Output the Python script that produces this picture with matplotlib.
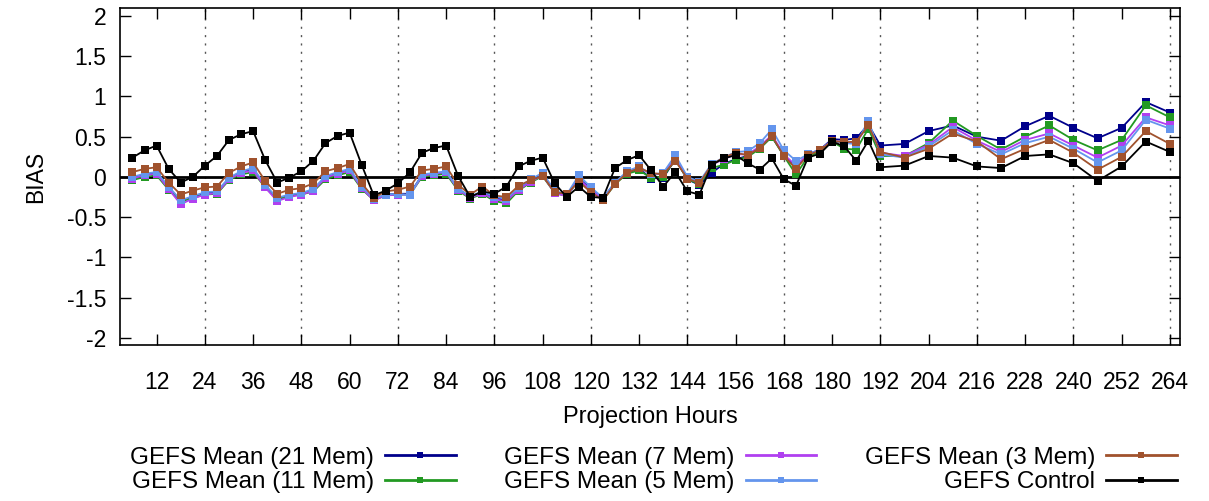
import matplotlib
matplotlib.use("Agg")
import matplotlib.pyplot as plt
from matplotlib.lines import Line2D

plt.rcParams['font.family'] = ['Liberation Sans', 'DejaVu Sans']

hours = list(range(6, 193, 3)) + list(range(198, 265, 6))

mean21 = [-0.01, 0.03, 0.05, -0.13, -0.30, -0.25, -0.20, -0.19, -0.02, 0.06, 0.09, -0.11, -0.27, -0.23, -0.21, -0.16,
          0.00, 0.05, 0.09, -0.13, -0.28, -0.22, -0.21, -0.21, 0.02, 0.04, 0.06, -0.15, -0.25, -0.19, -0.26, -0.29,
          -0.15, -0.05, 0.02, -0.19, -0.23, -0.02, -0.15, -0.27, -0.07, 0.05, 0.10, -0.02, -0.01, 0.22, -0.03, -0.10,
          0.05, 0.16, 0.22, 0.26, 0.36, 0.50, 0.27, 0.12, 0.28, 0.34, 0.47, 0.46, 0.48, 0.65, 0.39,
          0.41, 0.57, 0.64, 0.50, 0.45, 0.63, 0.76, 0.61, 0.48, 0.61, 0.93, 0.80]
mean11 = [-0.04, 0.00, 0.02, -0.16, -0.31, -0.26, -0.22, -0.21, -0.04, 0.03, 0.06, -0.13, -0.28, -0.24, -0.22, -0.18,
          -0.03, 0.02, 0.06, -0.15, -0.29, -0.23, -0.22, -0.22, 0.00, 0.02, 0.04, -0.17, -0.27, -0.21, -0.30, -0.33,
          -0.17, -0.07, 0.01, -0.20, -0.24, -0.04, -0.16, -0.29, -0.09, 0.04, 0.08, -0.01, 0.00, 0.22, -0.03, -0.09,
          0.11, 0.15, 0.21, 0.25, 0.35, 0.50, 0.26, 0.03, 0.25, 0.32, 0.44, 0.35, 0.34, 0.60, 0.26,
          0.26, 0.42, 0.70, 0.51, 0.34, 0.50, 0.64, 0.46, 0.33, 0.46, 0.89, 0.74]
mean7 = [-0.02, 0.02, 0.04, -0.15, -0.34, -0.27, -0.22, -0.20, -0.03, 0.05, 0.08, -0.13, -0.30, -0.25, -0.22, -0.17,
         -0.01, 0.04, 0.08, -0.14, -0.29, -0.23, -0.22, -0.22, 0.01, 0.04, 0.06, -0.16, -0.26, -0.20, -0.28, -0.30,
         -0.16, -0.06, 0.02, -0.20, -0.24, -0.03, -0.16, -0.28, -0.08, 0.06, 0.12, 0.03, 0.04, 0.25, -0.01, -0.07,
         0.15, 0.22, 0.28, 0.28, 0.38, 0.52, 0.28, 0.14, 0.28, 0.34, 0.45, 0.43, 0.42, 0.66, 0.30,
         0.26, 0.40, 0.62, 0.45, 0.31, 0.46, 0.54, 0.39, 0.24, 0.39, 0.74, 0.64]
mean5 = [0.00, 0.04, 0.06, -0.12, -0.29, -0.24, -0.19, -0.18, -0.01, 0.07, 0.11, -0.10, -0.26, -0.22, -0.20, -0.15,
         0.01, 0.06, 0.10, -0.12, -0.27, -0.22, -0.21, -0.23, 0.03, 0.05, 0.07, -0.15, -0.24, -0.18, -0.25, -0.27,
         -0.14, -0.03, 0.05, -0.17, -0.22, 0.02, -0.13, -0.26, -0.07, 0.07, 0.13, 0.03, 0.05, 0.27, 0.00, -0.06,
         0.16, 0.24, 0.31, 0.32, 0.42, 0.59, 0.33, 0.20, 0.28, 0.34, 0.45, 0.42, 0.41, 0.70, 0.28,
         0.24, 0.38, 0.58, 0.41, 0.28, 0.42, 0.50, 0.35, 0.18, 0.33, 0.71, 0.60]
mean3 = [0.06, 0.10, 0.12, -0.07, -0.22, -0.17, -0.13, -0.12, 0.05, 0.13, 0.18, -0.05, -0.21, -0.16, -0.14, -0.08,
         0.07, 0.11, 0.16, -0.08, -0.26, -0.18, -0.16, -0.12, 0.08, 0.10, 0.13, -0.10, -0.22, -0.12, -0.23, -0.25,
         -0.11, -0.04, 0.01, -0.19, -0.21, -0.06, -0.19, -0.29, -0.09, 0.05, 0.11, 0.05, 0.03, 0.20, -0.02, -0.08,
         0.15, 0.24, 0.30, 0.27, 0.36, 0.51, 0.26, 0.10, 0.27, 0.33, 0.45, 0.43, 0.44, 0.64, 0.31,
         0.24, 0.35, 0.54, 0.44, 0.22, 0.35, 0.46, 0.30, 0.09, 0.25, 0.57, 0.41]
control = [0.24, 0.33, 0.39, 0.10, -0.07, 0.00, 0.14, 0.26, 0.46, 0.53, 0.57, 0.21, -0.07, -0.01, 0.07, 0.20,
           0.42, 0.51, 0.55, 0.15, -0.23, -0.17, -0.08, 0.055, 0.30, 0.36, 0.39, 0.01, -0.25, -0.18, -0.21, -0.12,
           0.13, 0.20, 0.24, -0.08, -0.25, -0.12, -0.25, -0.26, 0.11, 0.21, 0.27, 0.08, -0.12, 0.06, -0.18, -0.22,
           0.15, 0.23, 0.27, 0.17, 0.09, 0.23, -0.03, -0.11, 0.24, 0.29, 0.44, 0.38, 0.20, 0.45, 0.12,
           0.14, 0.26, 0.24, 0.13, 0.11, 0.26, 0.28, 0.17, -0.05, 0.13, 0.44, 0.31]

series = [
    ("GEFS Mean (21 Mem)", mean21, "#00008b"),
    ("GEFS Mean (11 Mem)", mean11, "#229922"),
    ("GEFS Mean (7 Mem)", mean7, "#b040f0"),
    ("GEFS Mean (5 Mem)", mean5, "#6495ed"),
    ("GEFS Mean (3 Mem)", mean3, "#a0522d"),
    ("GEFS Control", control, "#000000"),
]

xticks = list(range(12, 265, 12))
yticks = [-2, -1.5, -1, -0.5, 0, 0.5, 1, 1.5, 2]
ytick_labels = ["-2", "-1.5", "-1", "-0.5", "0", "0.5", "1", "1.5", "2"]

fig = plt.figure(figsize=(12.09, 5.01), dpi=100)
ax = fig.add_axes([120 / 1209, 1 - 345 / 501, 1060 / 1209, 337 / 501])

for g in range(24, 265, 24):
    ax.axvline(g, color="#555555", lw=1.0, ls=(0, (1.5, 4.5)), zorder=1)
ax.axhline(0, color="black", lw=2.0, zorder=2)

handles = []
for label, vals, col in series:
    ax.plot(hours, vals, color=col, lw=1.3, marker="s", markersize=6,
            markeredgewidth=0, zorder=3)
    handles.append(Line2D([], [], color=col, lw=2.0, marker="s", markersize=5,
                          markeredgewidth=0, label=label))

ax.set_xlim(2.9, 266.5)
ax.set_ylim(-2.09, 2.1)
ax.set_xticks(xticks)
ax.set_xticklabels([str(t) for t in xticks])
ax.set_yticks(yticks)
ax.set_yticklabels(ytick_labels)
ax.tick_params(axis="both", direction="in", length=8, width=1.0,
               top=True, right=True, labelsize=16.5)
ax.tick_params(axis="x", pad=19)
ax.tick_params(axis="y", pad=10)
for s in ax.spines.values():
    s.set_linewidth(1.2)

ax.set_xlabel("Projection Hours", fontsize=17, labelpad=8)
ax.set_ylabel("BIAS", fontsize=16.5, labelpad=14)

fig.legend(handles=handles, loc="center", bbox_to_anchor=(653.5 / 1209, 1 - 470 / 501),
           ncol=3, frameon=False, markerfirst=False, fontsize=17.5,
           handlelength=2.9, handletextpad=0.45, columnspacing=2.0, labelspacing=0.1)

fig.savefig("out.png", dpi=100)
